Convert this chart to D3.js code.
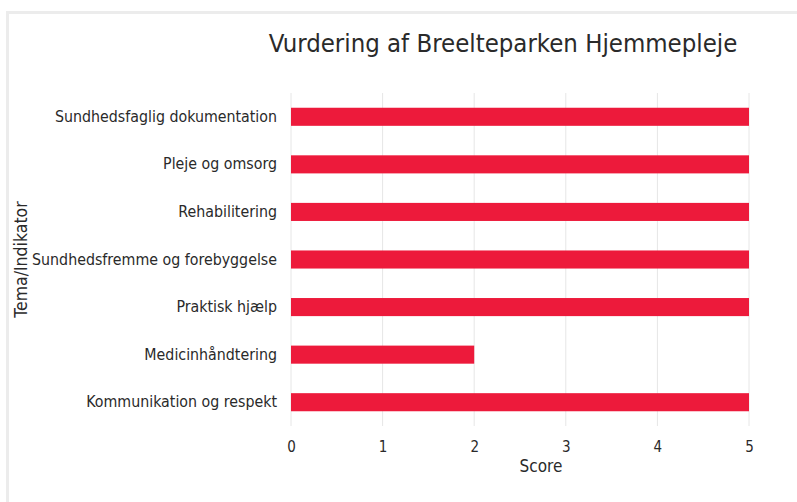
<!DOCTYPE html>
<html>
<head>
<meta charset="utf-8">
<script src="https://cdn.jsdelivr.net/npm/d3@7"></script>
<style>
html,body{margin:0;padding:0;background:#fff;}
svg{display:block;}
text{font-family:"DejaVu Sans Condensed","DejaVu Sans",sans-serif;fill:#2a2a2a;}
</style>
</head>
<body>
<svg id="chart" width="797" height="502"></svg>
<script>
const categories = [
  "Sundhedsfaglig dokumentation",
  "Pleje og omsorg",
  "Rehabilitering",
  "Sundhedsfremme og forebyggelse",
  "Praktisk hjælp",
  "Medicinhåndtering",
  "Kommunikation og respekt"
];
const scores = [5, 5, 5, 5, 5, 2, 5];
const xTicks = [0, 1, 2, 3, 4, 5];
const titleText = "Vurdering af Breelteparken Hjemmepleje";
const xLabel = "Score";
const yLabel = "Tema/Indikator";

const svg = d3.select("#chart");
const W = 797, H = 502;
const m = {left: 291, right: 48, top: 93, bottom: 76};

// frame
svg.append("path")
  .attr("d", `M7.5,${H} V12.5 H${W}`)
  .attr("fill", "none").attr("stroke", "#ececec").attr("stroke-width", 3);

const x = d3.scaleLinear().domain([0, 5]).range([m.left, W - m.right]);
const y = d3.scaleBand().domain(categories).range([m.top, H - m.bottom]).paddingInner(0.62).paddingOuter(0.31);

// grid
svg.append("g").selectAll("line").data(xTicks).join("line")
  .attr("x1", d => x(d)).attr("x2", d => x(d))
  .attr("y1", m.top).attr("y2", H - m.bottom)
  .attr("stroke", "#e6e6e6").attr("stroke-width", 1);

// bars
svg.append("g").selectAll("rect").data(categories).join("rect")
  .attr("x", x(0))
  .attr("y", d => y(d))
  .attr("width", (d, i) => x(scores[i]) - x(0))
  .attr("height", y.bandwidth())
  .attr("fill", "#ed1a3b");

// y axis labels
const yAxis = d3.axisLeft(y).tickSize(0).tickPadding(14);
const gy = svg.append("g").attr("transform", `translate(${m.left},0)`).call(yAxis);
gy.select(".domain").remove();
gy.selectAll("text").style("font-size", "15.8px").attr("fill", "#2a2a2a");

// x axis
const xAxis = d3.axisBottom(x).tickValues(xTicks).tickSize(0).tickPadding(15).tickFormat(d3.format("d"));
const gx = svg.append("g").attr("transform", `translate(0,${H - m.bottom})`).call(xAxis);
gx.select(".domain").remove();
gx.selectAll("text").style("font-size", "15px").attr("fill", "#2a2a2a");

// titles
svg.append("text").attr("x", 503).attr("y", 52).attr("text-anchor", "middle")
  .style("font-size", "25.5px").attr("fill", "#222").text(titleText);
svg.append("text").attr("x", 541).attr("y", 472).attr("text-anchor", "middle")
  .style("font-size", "17px").text(xLabel);
svg.append("text").attr("transform", `translate(27,${(m.top + H - m.bottom) / 2}) rotate(-90)`)
  .attr("text-anchor", "middle").style("font-size", "17.5px").text(yLabel);
</script>
</body>
</html>
